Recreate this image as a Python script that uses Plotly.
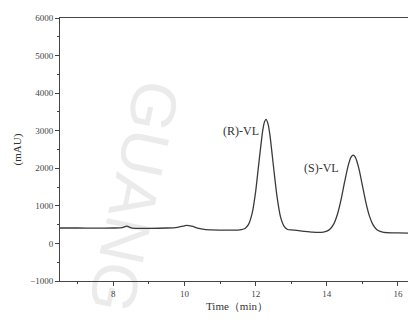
import plotly.graph_objects as go

time_min = [6.5, 7.0, 7.5, 8.0, 8.25, 8.38, 8.5, 8.7, 9.0, 9.5, 9.8, 10.0, 10.06, 10.2, 10.4, 10.6,
            11.0, 11.5, 11.6, 11.7, 11.8, 11.9, 12.0, 12.1, 12.2, 12.25, 12.29,
            12.35, 12.4, 12.5, 12.6, 12.7, 12.8, 12.9, 13.0, 13.3, 13.6,
            13.9, 14.0, 14.1, 14.2, 14.3, 14.4, 14.5, 14.6, 14.68, 14.74, 14.8, 14.9, 15.0,
            15.1, 15.2, 15.3, 15.4, 15.5, 15.6, 16.0, 16.45]
signal_mau = [410, 410, 405, 410, 420, 460, 415, 400, 400, 410, 430, 470, 480, 460, 400, 365,
              355, 355, 368, 398, 506, 798, 1386, 2232, 3018, 3241, 3300,
              3170, 2888, 2054, 1245, 700, 454, 370, 360, 330, 300,
              301, 326, 390, 527, 782, 1163, 1637, 2072, 2296, 2350, 2296, 1996, 1540,
              1079, 721, 494, 372, 319, 295, 280, 275]

peak_labels = ["(R)-VL", "(S)-VL"]
peak_label_x = [11.6, 13.85]
peak_label_y = [2990, 2020]

x_ticks = [8, 10, 12, 14, 16]
y_ticks = [-1000, 0, 1000, 2000, 3000, 4000, 5000, 6000]

watermark_text = "GUANG"

font_family = "Liberation Serif"

fig = go.Figure()

# faint background watermark, drawn below the data
fig.add_shape(type="line", xref="paper", yref="paper",
              x0=0.304, y0=0.80, x1=0.148, y1=-0.168,
              line=dict(color="rgba(0,0,0,0)", width=0), layer="below",
              label=dict(text=watermark_text, textposition="middle", textangle=102,
                         xanchor="center", yanchor="middle", padding=0,
                         font=dict(family="Liberation Sans", size=64, color="#ebebeb")))

fig.add_trace(go.Scatter(x=time_min, y=signal_mau, mode="lines",
                         line=dict(color="#3a3a3a", width=1.3, shape="spline", smoothing=0.6),
                         showlegend=False, hoverinfo="skip"))

for txt, xx, yy in zip(peak_labels, peak_label_x, peak_label_y):
    fig.add_annotation(x=xx, y=yy, text=txt, showarrow=False,
                       font=dict(family=font_family, size=12, color="#333"))

fig.update_layout(
    width=408, height=313,
    margin=dict(l=52, r=2, t=10, b=40, autoexpand=False),
    paper_bgcolor="white", plot_bgcolor="white",
    font=dict(family=font_family, color="#444", size=9),
    xaxis=dict(range=[6.5, 16.45], tickvals=x_ticks, ticks="outside", ticklen=4,
               tickcolor="#444", showline=True, linecolor="#444", linewidth=1, mirror=True,
               showgrid=False, zeroline=False, automargin=False,
               minor=dict(dtick=1, tick0=7, ticks="outside", ticklen=2, tickcolor="#444", showgrid=False),
               title=dict(text="Time（min）", font=dict(family=font_family, size=11, color="#333"), standoff=4)),
    yaxis=dict(range=[-1000, 6000], tickvals=y_ticks, ticks="outside", ticklen=4,
               tickcolor="#444", showline=True, linecolor="#444", linewidth=1, mirror=True,
               showgrid=False, zeroline=False, automargin=False,
               minor=dict(dtick=500, ticks="outside", ticklen=2, tickcolor="#444", showgrid=False),
               title=dict(text="(mAU)", font=dict(family=font_family, size=11, color="#333"), standoff=6)),
)

fig.write_html("out.html")
